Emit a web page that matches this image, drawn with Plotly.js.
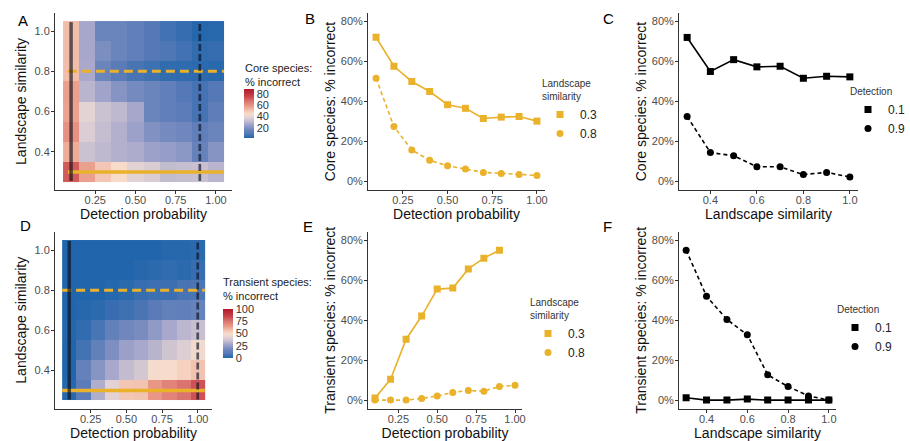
<!DOCTYPE html>
<html><head><meta charset="utf-8">
<script src="https://cdn.plot.ly/plotly-3.0.1.min.js"></script>
<style>html,body{margin:0;padding:0;background:#fff}#chart{width:910px;height:441px}</style>
</head><body><div id="chart"></div>
<script>
// ---------- data ----------
const detection = [0.1, 0.2, 0.3, 0.4, 0.5, 0.6, 0.7, 0.8, 0.9, 1.0];
const similarity = [0.3, 0.4, 0.5, 0.6, 0.7, 0.8, 0.9, 1.0];

// heatmap A: core species % incorrect (rows = similarity, cols = detection)
const coreHeat = [
  [72, 57.5, 50, 45, 38.5, 36.5, 31.5, 32, 32.5, 30],
  [55, 33, 31, 29, 28, 25, 24, 22, 14.5, 21],
  [60.5, 37, 32, 29, 25, 20, 18, 17, 12.5, 16],
  [57, 39, 33, 31, 27, 16, 13, 11, 7.5, 12],
  [57.5, 30, 26, 21, 18, 16, 13, 10, 7.5, 10],
  [52, 27.5, 16, 10.5, 8, 6.5, 4.5, 4, 3.5, 3],
  [52.5, 27, 19, 16, 13, 10, 9, 7, 4.5, 5],
  [52, 27, 16, 16, 13, 10, 7, 5, 2.5, 3]
];
// heatmap D: transient species % incorrect
const transientHeat = [
  [1, 10.4, 30.5, 42, 55.6, 56, 65.7, 71, 75, 82],
  [0, 14, 22, 29, 34, 38, 48, 49, 52, 56],
  [0, 6, 13, 20, 26, 29, 32, 37, 40.4, 47],
  [0.5, 3, 7, 13, 17, 19, 24, 29, 32.7, 35],
  [0, 1, 2, 4, 5, 7, 10, 13, 12.7, 15],
  [0, 0, 0, 0.8, 2, 3.8, 4.8, 4.5, 6.8, 7.4],
  [0, 0, 0, 0, 0, 1, 2, 3, 2, 4],
  [0, 0, 0, 0, 0, 0, 0, 1, 1, 2]
];

// B: core species vs detection, landscape similarity 0.3 / 0.8
const coreSim03 = [72.1, 57.6, 50, 45, 38.4, 36.6, 31.5, 32.2, 32.5, 30.2];
const coreSim08 = [51.6, 27.5, 15.8, 10.6, 7.9, 6.3, 4.6, 4.1, 3.5, 3.1];
// C: core species vs similarity, detection 0.1 / 0.9
const coreDet01 = [72, 55, 60.9, 57.3, 57.6, 51.6, 52.6, 52.3];
const coreDet09 = [32.5, 14.5, 12.9, 7.4, 7.4, 3.5, 4.6, 2.3];
// E: transient species vs detection
const transSim03 = [1, 10.4, 30.5, 42.1, 55.6, 56.1, 65.7, 71.1, 75.1, null];
const transSim08 = [0, 0, 0, 0.8, 2.1, 3.8, 4.8, 4.5, 6.8, 7.4];
// F: transient species vs similarity
const transDet01 = [1.2, 0, 0, 0.5, 0, 0, 0, 0];
const transDet09 = [75.1, 52, 40.4, 32.7, 12.7, 6.8, 2.1, 0];

// highlighted slices drawn on heatmaps
const coreRefDetection = [0.1, 0.9];
const transRefDetection = [0.1, 1.0];
const refSimilarity = [0.3, 0.8];

// tick labels
const detTickVals = [0.25, 0.5, 0.75, 1.0];
const detTickText = ['0.25', '0.50', '0.75', '1.00'];
const simTickVals = [0.4, 0.6, 0.8, 1.0];
const simTickText = ['0.4', '0.6', '0.8', '1.0'];
const pctTickVals = [0, 20, 40, 60, 80];
const pctTickText = ['0%', '20%', '40%', '60%', '80%'];
const coreBarTicks = [20, 40, 60, 80];
const transBarTicks = [0, 25, 50, 75, 100];
const simLegendNames = ['0.3', '0.8'];
const detLegendNames = ['0.1', '0.9'];

// ---------- styling ----------
const W = 910, H = 441;
const ORANGE = '#EAB12B';
const FONT = 'Liberation Sans, Arial, sans-serif';
const heatScale = [[0,'#2166ac'],[0.1,'#5a7bb8'],[0.16,'#6a84bc'],[0.29,'#a8a8cc'],[0.35,'#c8c0d0'],
  [0.42,'#e2d2d4'],[0.49,'#f8dccb'],[0.57,'#f2c0ae'],[0.65,'#e99a88'],[0.75,'#db7470'],[0.85,'#c9444a'],[1,'#b2182b']];

const px = (a, b) => [a / W, b / W];
const py = (top, bottom) => [1 - bottom / H, 1 - top / H];

function axis(domain, range, tickvals, ticktext, title, anchor, standoff, isX) {
  return {
    domain, range, tickvals, ticktext, anchor, automargin: true,
    showline: true, linecolor: '#333', linewidth: 1,
    ticks: 'outside', ticklen: 3, tickwidth: 1, tickcolor: '#333',
    ticklabelstandoff: isX ? -3 : -1,
    showgrid: false, zeroline: false, fixedrange: true,
    tickfont: { size: 11, color: '#4d4d4d', family: FONT },
    title: { text: title, standoff, font: { size: 14, color: '#111', family: FONT } }
  };
}

const traces = [];

function heat(z, xa, ya, zmin, zmax, cb) {
  traces.push({
    type: 'heatmap', x: detection, y: similarity, z, xaxis: xa, yaxis: ya,
    colorscale: heatScale, zmin, zmax, zsmooth: false, hoverinfo: 'x+y+z',
    colorbar: Object.assign({
      xanchor: 'left', yanchor: 'middle', len: 49, lenmode: 'pixels',
      thickness: 10, thicknessmode: 'pixels', xpad: 0, ypad: 0, outlinewidth: 0,
      ticks: '', tickfont: { size: 11, color: '#333', family: FONT }, title: { text: '' }
    }, cb)
  });
}

function refLines(xa, ya, detRefs, xStartPad) {
  const yLo = similarity[0] - 0.045, yHi = similarity[similarity.length - 1] + 0.045;
  const xLo = detection[0] - xStartPad, xHi = detection[detection.length - 1] + 0.05;
  refSimilarity.forEach((s, i) => traces.push({
    type: 'scatter', mode: 'lines', x: [xLo, xHi], y: [s, s], xaxis: xa, yaxis: ya,
    line: { color: ORANGE, width: i === 0 ? 3.5 : 3, dash: i === 0 ? 'solid' : '9px,5px' },
    showlegend: false, hoverinfo: 'skip'
  }));
  detRefs.forEach((d, i) => traces.push({
    type: 'scatter', mode: 'lines', x: [d, d], y: [yLo, yHi], xaxis: xa, yaxis: ya,
    line: { color: i === 0 ? 'rgba(10,10,20,0.62)' : 'rgba(10,15,35,0.65)', width: i === 0 ? 3.5 : 2.7, dash: i === 0 ? 'solid' : '7px,3px' },
    showlegend: false, hoverinfo: 'skip'
  }));
}

function linePanel(xs, s1, s2, color, xa, ya, legendId, names) {
  traces.push({
    type: 'scatter', mode: 'lines+markers', x: xs, y: s1, xaxis: xa, yaxis: ya,
    line: { color, width: 1.6 }, marker: { symbol: 'square', size: 7, color },
    showlegend: false, connectgaps: false
  });
  traces.push({
    type: 'scatter', mode: 'lines+markers', x: xs, y: s2, xaxis: xa, yaxis: ya,
    line: { color, width: 1.6, dash: '4px,3px' }, marker: { symbol: 'circle', size: 7, color },
    showlegend: false
  });
  traces.push({ type: 'scatter', mode: 'markers', x: [null], y: [null], xaxis: xa, yaxis: ya,
    marker: { symbol: 'square', size: 7, color }, name: names[0], legend: legendId, showlegend: true, hoverinfo: 'skip' });
  traces.push({ type: 'scatter', mode: 'markers', x: [null], y: [null], xaxis: xa, yaxis: ya,
    marker: { symbol: 'circle', size: 7, color }, name: names[1], legend: legendId, showlegend: true, hoverinfo: 'skip' });
}

heat(coreHeat, 'x', 'y', 2, 89, { x: 244 / W, y: 1 - 113.5 / H, tickvals: coreBarTicks });
refLines('x', 'y', coreRefDetection, 0.02);
heat(transientHeat, 'x4', 'y4', 0, 100, { x: 223 / W, y: 1 - 333.5 / H, tickvals: transBarTicks });
refLines('x4', 'y4', transRefDetection, 0.05);
linePanel(detection, coreSim03, coreSim08, ORANGE, 'x2', 'y2', 'legend', simLegendNames);
linePanel(similarity, coreDet01, coreDet09, '#000', 'x3', 'y3', 'legend2', detLegendNames);
linePanel(detection, transSim03, transSim08, ORANGE, 'x5', 'y5', 'legend3', simLegendNames);
linePanel(similarity, transDet01, transDet09, '#000', 'x6', 'y6', 'legend4', detLegendNames);

const topRow = py(13, 190), botRow = py(232, 408.5);

function legendCfg(x, yTop, title) {
  return {
    x: x / W, y: 1 - yTop / H, xanchor: 'left', yanchor: 'top', xref: 'paper', yref: 'paper',
    bgcolor: 'rgba(0,0,0,0)', borderwidth: 0, itemwidth: 30, tracegroupgap: 0,
    font: { size: 12, color: '#222', family: FONT },
    title: { text: title, font: { size: 10, color: '#333', family: FONT } }
  };
}

function letter(t, x, y) {
  return { text: t, x: x / W, y: 1 - y / H, xref: 'paper', yref: 'paper', showarrow: false,
    xanchor: 'center', yanchor: 'middle', font: { size: 15, color: '#000', family: FONT } };
}

const layout = {
  width: W, height: H, margin: { l: 0, r: 0, t: 0, b: 0, autoexpand: false },
  paper_bgcolor: '#fff', plot_bgcolor: 'rgba(0,0,0,0)',
  font: { family: FONT },
  xaxis: axis(px(55, 232), [0, 1.1], detTickVals, detTickText, 'Detection probability', 'y', 1, true),
  yaxis: axis(topRow, [0.21, 1.09], simTickVals, simTickText, 'Landscape similarity', 'x', 4),
  xaxis2: axis(px(368, 545), [0.055, 1.045], detTickVals, detTickText, 'Detection probability', 'y2', 1, true),
  yaxis2: axis(topRow, [-4.2, 84.2], pctTickVals, pctTickText, 'Core species: % incorrect', 'x2', 1),
  xaxis3: axis(px(679, 858), [0.265, 1.035], simTickVals, simTickText, 'Landscape similarity', 'y3', 1, true),
  yaxis3: axis(topRow, [-4.2, 84.2], pctTickVals, pctTickText, 'Core species: % incorrect', 'x3', 1),
  xaxis4: axis(px(55, 212), [0, 1.1], detTickVals, detTickText, 'Detection probability', 'y4', 1, true),
  yaxis4: axis(botRow, [0.21, 1.09], simTickVals, simTickText, 'Landscape similarity', 'x4', 4),
  xaxis5: axis(px(368, 522), [0.055, 1.045], detTickVals, detTickText, 'Detection probability', 'y5', 1, true),
  yaxis5: axis(botRow, [-4.2, 84.2], pctTickVals, pctTickText, 'Transient species: % incorrect', 'x5', 1),
  xaxis6: axis(px(679, 836), [0.265, 1.035], simTickVals, simTickText, 'Landscape similarity', 'y6', 1, true),
  yaxis6: axis(botRow, [-4.2, 84.2], pctTickVals, pctTickText, 'Transient species: % incorrect', 'x6', 1),
  legend: legendCfg(540, 74, 'Landscape<br>similarity'),
  legend2: legendCfg(848, 82, 'Detection'),
  legend3: legendCfg(528, 293, 'Landscape<br>similarity'),
  legend4: legendCfg(835, 300, 'Detection'),
  annotations: [
    letter('A', 23, 20), letter('B', 310, 19), letter('C', 608, 19),
    letter('D', 25, 225), letter('E', 308, 226), letter('F', 607, 226),
    { text: 'Core species:<br>% incorrect', x: 243 / W, y: 1 - 60 / H, xref: 'paper', yref: 'paper',
      showarrow: false, xanchor: 'left', yanchor: 'top', align: 'left',
      font: { size: 11, color: '#222', family: FONT } },
    { text: 'Transient species:<br>% incorrect', x: 221 / W, y: 1 - 274 / H, xref: 'paper', yref: 'paper',
      showarrow: false, xanchor: 'left', yanchor: 'top', align: 'left',
      font: { size: 11, color: '#222', family: FONT } }
  ]
};

Plotly.newPlot('chart', traces, layout, { displayModeBar: false, staticPlot: true });
</script></body></html>
